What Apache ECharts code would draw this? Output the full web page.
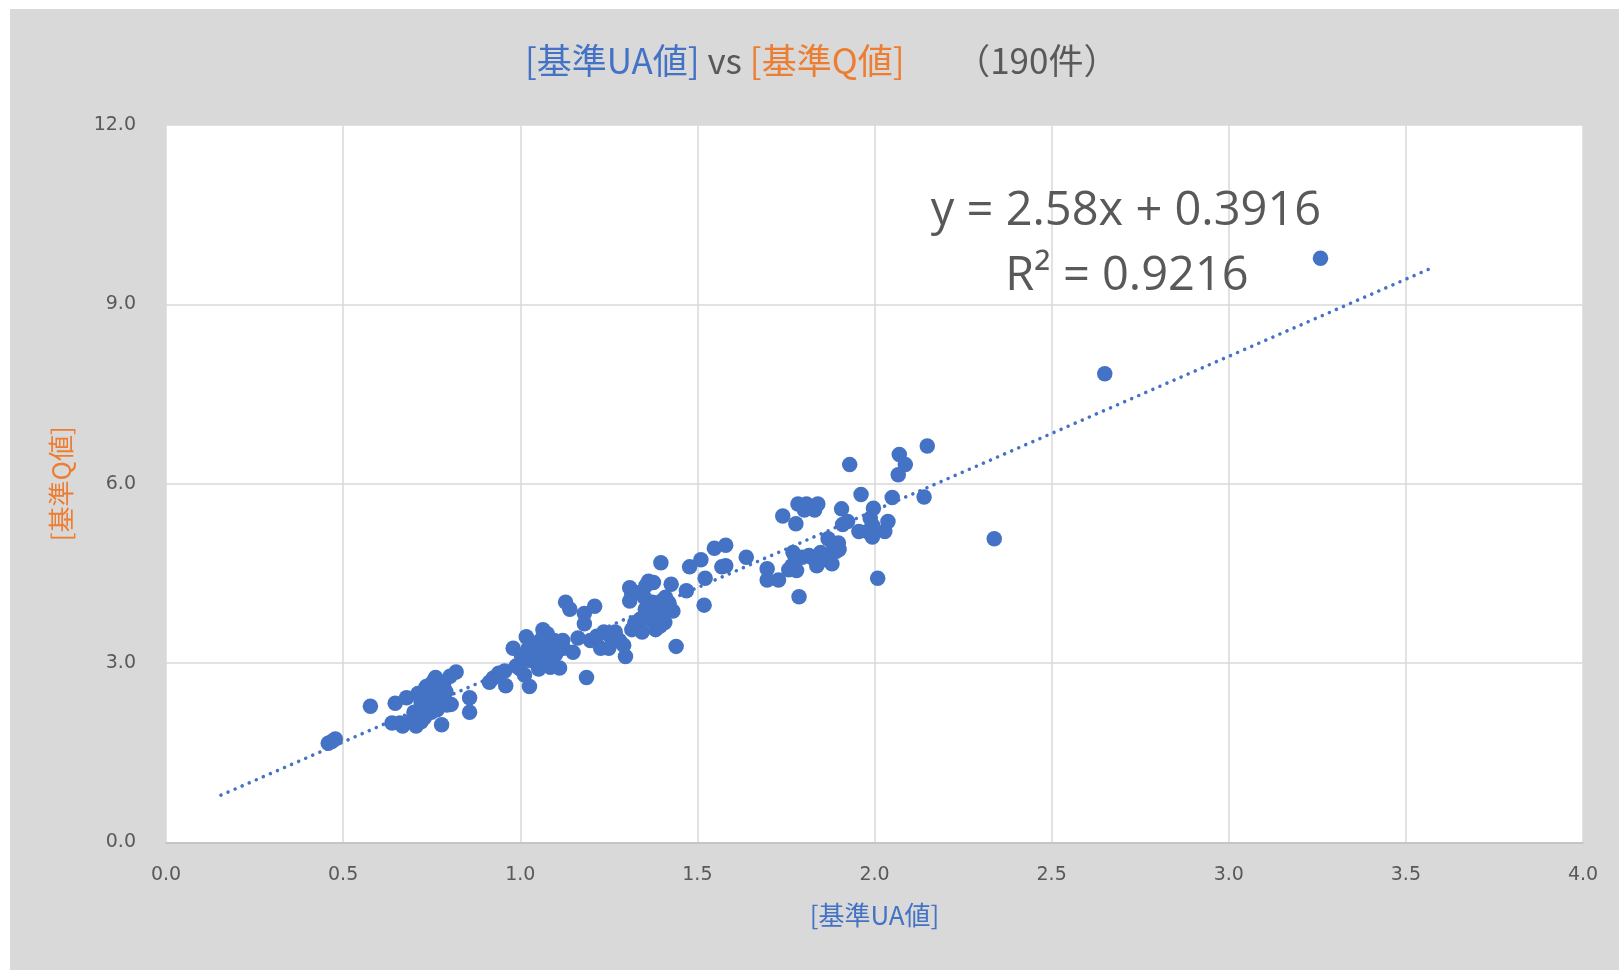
<!DOCTYPE html>
<html>
<head>
<meta charset="utf-8">
<script src="https://cdn.jsdelivr.net/npm/echarts@6/dist/echarts.min.js"></script>
<style>
html,body{margin:0;padding:0;background:#fff;}
#chart{width:1619px;height:970px;}
</style>
</head>
<body>
<div id="chart"></div>
<script>
// ---- data ----
const uaValues = [
 0.458,0.468,0.478,0.577,0.647,0.638,0.660,0.668,0.679,0.706,0.711,0.726,0.735,0.749,0.755,0.761,0.776,0.778,0.784,0.793,
 0.802,0.819,0.857,0.857,0.720,0.740,0.700,0.730,0.770,0.750,0.790,0.710,0.755,0.805,0.745,0.765,0.730,0.695,0.720,
 0.913,0.924,0.939,0.956,0.959,0.980,0.988,1.012,1.017,1.023,1.026,1.032,1.047,1.052,1.064,1.070,1.076,1.085,1.096,1.105,
 1.111,1.122,1.128,1.140,1.149,1.163,1.181,1.181,1.187,1.198,1.210,1.216,1.227,1.236,1.251,1.268,1.280,1.292,1.297,1.309,
 1.309,1.315,1.324,1.338,1.344,1.353,1.362,1.367,1.373,1.376,1.382,1.391,1.397,1.399,1.408,1.417,1.426,1.431,1.440,
 1.076,1.003,1.040,1.090,1.120,1.250,1.338,1.362,1.385,1.350,1.315,1.410,1.373,1.060,1.100,1.030,1.270,1.320,1.395,1.420,1.355,1.000,1.045,
 1.469,1.478,1.510,1.519,1.522,1.548,1.569,1.580,1.580,1.638,1.697,1.697,1.729,1.741,1.758,1.767,1.770,1.778,1.784,1.787,
 1.796,1.802,1.808,1.822,1.831,1.837,1.840,1.848,1.860,1.869,1.880,1.892,1.898,1.907,1.910,1.924,1.930,1.956,1.962,1.980,
 1.988,1.994,1.997,2.009,2.029,2.038,2.050,2.067,2.070,2.087,2.140,2.149,
 1.775,1.845,1.815,1.885,1.780,1.900,1.995,1.830,
 2.338,2.650,3.259,
 0.735,0.760,1.370,1.400,1.090,1.850
];
const qValues = [
 1.66,1.69,1.73,2.28,2.33,2.00,2.00,1.95,2.42,1.95,2.49,2.24,2.61,2.18,2.69,2.76,2.42,1.97,2.66,2.30,
 2.78,2.85,2.42,2.18,2.35,2.43,2.18,2.09,2.52,2.66,2.52,2.14,2.35,2.31,2.28,2.22,2.55,2.05,2.02,
 2.68,2.75,2.83,2.87,2.62,3.25,2.95,2.80,3.44,3.25,2.61,3.04,3.31,2.90,3.56,3.13,3.49,2.93,3.38,3.25,
 2.92,3.25,4.02,3.90,3.18,3.42,3.83,3.66,2.76,3.38,3.95,3.45,3.25,3.52,3.47,3.52,3.38,3.30,3.11,4.26,
 4.04,3.56,3.68,4.18,3.52,3.90,4.37,3.73,4.02,4.35,3.56,3.85,4.68,4.04,3.68,3.90,4.32,3.87,3.28,
 3.25,3.13,3.18,3.04,3.38,3.25,3.73,3.82,3.98,4.10,4.15,4.10,3.78,3.40,3.15,3.35,3.45,3.60,3.62,4.00,4.30,2.90,3.02,
 4.21,4.61,4.73,3.97,4.42,4.92,4.61,4.97,4.63,4.77,4.58,4.39,4.39,5.46,4.56,4.63,4.85,5.33,5.66,4.11,
 4.77,5.56,5.66,4.77,5.56,4.63,5.66,4.85,4.77,5.08,4.66,4.87,5.01,5.58,5.32,5.37,6.32,5.20,5.82,5.20,
 5.42,5.11,5.59,4.42,5.20,5.37,5.77,6.15,6.49,6.32,5.78,6.63,
 4.80,4.70,4.80,4.95,4.55,4.90,5.30,4.75,
 5.08,7.84,9.77,
 2.30,2.45,3.95,3.80,3.30,4.80
];
const xTicks = [0.0,0.5,1.0,1.5,2.0,2.5,3.0,3.5,4.0];
const yTicks = [0.0,3.0,6.0,9.0,12.0];
const trendSlope = 2.58;
const trendIntercept = 0.3916;
const trendRange = [0.155, 3.565];
const trendText = ['y = 2.58x + 0.3916', 'R² = 0.9216'];

const BLUE = '#4472C4', ORANGE = '#ED7D31', GRAY = '#595959';
const points = uaValues.map((u, i) => [u, qValues[i]]);
const trendData = trendRange.map(x => [x, trendSlope * x + trendIntercept]);

const chart = echarts.init(document.getElementById('chart'), null, {renderer: 'canvas'});
chart.setOption({
  backgroundColor: '#ffffff',
  animation: false,
  graphic: [
    {type: 'rect', z: -10, shape: {x: 10, y: 9, width: 1609, height: 961}, style: {fill: '#D9D9D9'}},
    {type: 'text', z: 50, x: 1126, y: 212, style: {text: trendText[0], font: '47px "Open Sans"', fill: GRAY, textAlign: 'center', textVerticalAlign: 'middle'}},
    {type: 'text', z: 50, x: 1127, y: 277, style: {text: trendText[1], font: '47px "Open Sans"', fill: GRAY, textAlign: 'center', textVerticalAlign: 'middle'}}
  ],
  title: {
    text: '{b|[基準UA値]}{g| vs }{o|[基準Q値]}{g|　  （190件）}',
    left: 520,
    top: 38,
    textStyle: {
      fontWeight: 'normal',
      rich: {
        b: {color: BLUE, fontSize: 35, fontWeight: 'normal', fontFamily: '"Noto Sans CJK JP"'},
        o: {color: ORANGE, fontSize: 35, fontWeight: 'normal', fontFamily: '"Noto Sans CJK JP"'},
        g: {color: GRAY, fontSize: 35, fontWeight: 'normal', fontFamily: '"Noto Sans CJK JP"'}
      }
    }
  },
  grid: {left: 166, top: 125, right: 36, bottom: 127.5, show: true, backgroundColor: '#ffffff', borderWidth: 0},
  xAxis: {
    type: 'value', min: 0, max: 4, interval: 0.5,
    name: '[基準UA値]', nameLocation: 'middle', nameGap: 60,
    nameTextStyle: {color: BLUE, fontSize: 26, fontFamily: '"Noto Sans CJK JP"'},
    axisLine: {show: true, onZero: false, lineStyle: {color: '#BFBFBF', width: 1.5}},
    axisTick: {show: false},
    splitLine: {show: true, lineStyle: {color: '#D9D9D9', width: 1.5}},
    axisLabel: {color: GRAY, fontSize: 19, fontFamily: '"DejaVu Sans"', margin: 23,
      formatter: v => v.toFixed(1)}
  },
  yAxis: {
    type: 'value', min: 0, max: 12, interval: 3,
    name: '[基準Q値]', nameLocation: 'middle', nameGap: 92, nameRotate: 90,
    nameTextStyle: {color: ORANGE, fontSize: 26, fontFamily: '"Noto Sans CJK JP"'},
    axisLine: {show: false},
    axisTick: {show: false},
    splitLine: {show: true, lineStyle: {color: '#D9D9D9', width: 1.5}},
    axisLabel: {color: GRAY, fontSize: 19, fontFamily: '"DejaVu Sans"', margin: 30,
      formatter: v => v.toFixed(1)}
  },
  series: [
    {
      type: 'line', data: trendData, symbol: 'none', silent: true, z: 3,
      lineStyle: {color: BLUE, width: 3.5, type: [0.1, 7.6], cap: 'round'}
    },
    {
      type: 'scatter', data: points, symbol: 'circle', symbolSize: 15.5, z: 2,
      itemStyle: {color: BLUE, opacity: 1}
    }
  ]
});
</script>
</body>
</html>
